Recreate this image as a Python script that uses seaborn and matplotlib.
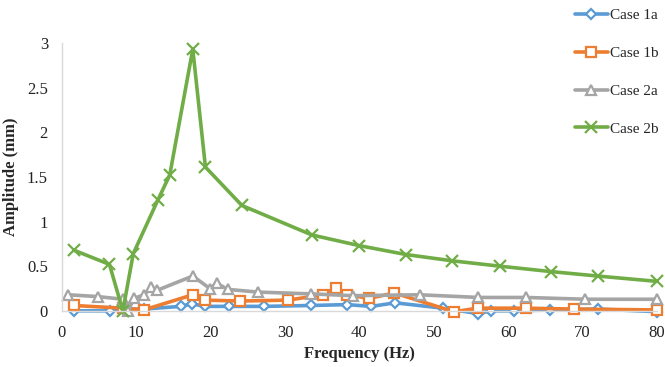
import numpy as np
import pandas as pd
import matplotlib
matplotlib.use("Agg")
import matplotlib.pyplot as plt
import seaborn as sns

# ------------------------------------------------------------
# Data
# ------------------------------------------------------------
freq_1a = [1.6, 6.5, 8.2, 11.0, 16.0, 17.5, 19.2, 22.5, 27.2, 33.5, 38.3, 41.6,
           44.8, 51.2, 55.9, 57.7, 60.8, 65.6, 72.1, 80.0]
amp_1a = [0.0, 0.0, 0.02, 0.02, 0.05, 0.08, 0.05, 0.05, 0.05, 0.06, 0.07, 0.05,
          0.09, 0.03, -0.03, 0.0, 0.0, 0.01, 0.02, -0.01]

freq_1b = [1.6, 8.2, 11.0, 17.6, 19.2, 24.0, 30.4, 35.1, 36.8, 38.3, 41.3,
           44.7, 52.7, 55.9, 62.4, 68.8, 80.0]
amp_1b = [0.06, 0.03, 0.01, 0.18, 0.12, 0.11, 0.12, 0.18, 0.26, 0.18, 0.14,
          0.20, -0.01, 0.03, 0.03, 0.02, 0.01]

freq_2a = [0.85, 4.8, 8.2, 8.9, 9.7, 11.1, 12.0, 12.8, 17.6, 19.9, 20.8, 22.3,
           26.4, 33.5, 39.1, 48.1, 56.0, 62.4, 70.3, 80.0]
amp_2a = [0.18, 0.16, 0.13, 0.0, 0.14, 0.18, 0.27, 0.23, 0.39, 0.25, 0.31, 0.24,
          0.21, 0.19, 0.17, 0.18, 0.15, 0.15, 0.13, 0.13]

freq_2b = [1.6, 6.4, 8.2, 9.6, 12.9, 14.5, 17.6, 19.3, 24.2, 33.6, 40.0, 46.3,
           52.5, 58.9, 65.7, 72.0, 80.0]
amp_2b = [0.68, 0.52, 0.0, 0.64, 1.24, 1.52, 2.93, 1.61, 1.18, 0.85, 0.73, 0.63,
          0.56, 0.50, 0.44, 0.39, 0.33]

case_names = ["Case 1a", "Case 1b", "Case 2a", "Case 2b"]

# ------------------------------------------------------------
# Styling
# ------------------------------------------------------------
sns.set_style("white")
plt.rcParams["font.family"] = ["Liberation Serif", "DejaVu Serif"]

colors = ["#5B9BD5", "#ED7D31", "#A5A5A5", "#70AD47"]
markers = ["D", "s", "^", "x"]
msizes = [5, 7, 7, 8]

series = [(freq_1a, amp_1a), (freq_1b, amp_1b), (freq_2a, amp_2a), (freq_2b, amp_2b)]

fig = plt.figure(figsize=(6.65, 3.67), dpi=100)
ax = fig.add_axes([0.093, 0.153, 0.895, 0.730])

for (fx, fy), name, col, mk, ms in zip(series, case_names, colors, markers, msizes):
    df = pd.DataFrame({"freq": fx, "amp": fy})
    face = col if mk == "x" else "white"
    sns.lineplot(data=df, x="freq", y="amp", ax=ax, color=col, linewidth=2.6,
                 marker=mk, markersize=ms, markerfacecolor=face,
                 markeredgecolor=col, markeredgewidth=1.6,
                 estimator=None, sort=False, label=name, clip_on=False)

ax.set_xlim(0, 80)
ax.set_ylim(0, 3)
ax.set_xticks(np.arange(0, 81, 10))
ax.set_yticks([0, 0.5, 1, 1.5, 2, 2.5, 3])
ax.set_yticklabels(["0", "0.5", "1", "1.5", "2", "2.5", "3"])
ax.tick_params(axis="both", labelsize=12, length=0, colors="#222222")
ax.tick_params(axis="x", pad=10)
ax.tick_params(axis="y", pad=10)

ax.set_xlabel("Frequency (Hz)", fontsize=12, fontweight="bold", labelpad=4)
ax.set_ylabel("Amplitude (mm)", fontsize=12, fontweight="bold", labelpad=6)

for side in ["top", "right"]:
    ax.spines[side].set_visible(False)
for side in ["left", "bottom"]:
    ax.spines[side].set_color("#D9D9D9")
    ax.spines[side].set_linewidth(1.0)

handles, labels = ax.get_legend_handles_labels()
ax.get_legend().remove()
fig.legend(handles, labels, loc="upper left", bbox_to_anchor=(0.848, 1.006),
           frameon=False, fontsize=11, handlelength=2.2, handletextpad=0.1,
           labelspacing=1.58, borderaxespad=0.3)

plt.savefig("out.png", dpi=100)
